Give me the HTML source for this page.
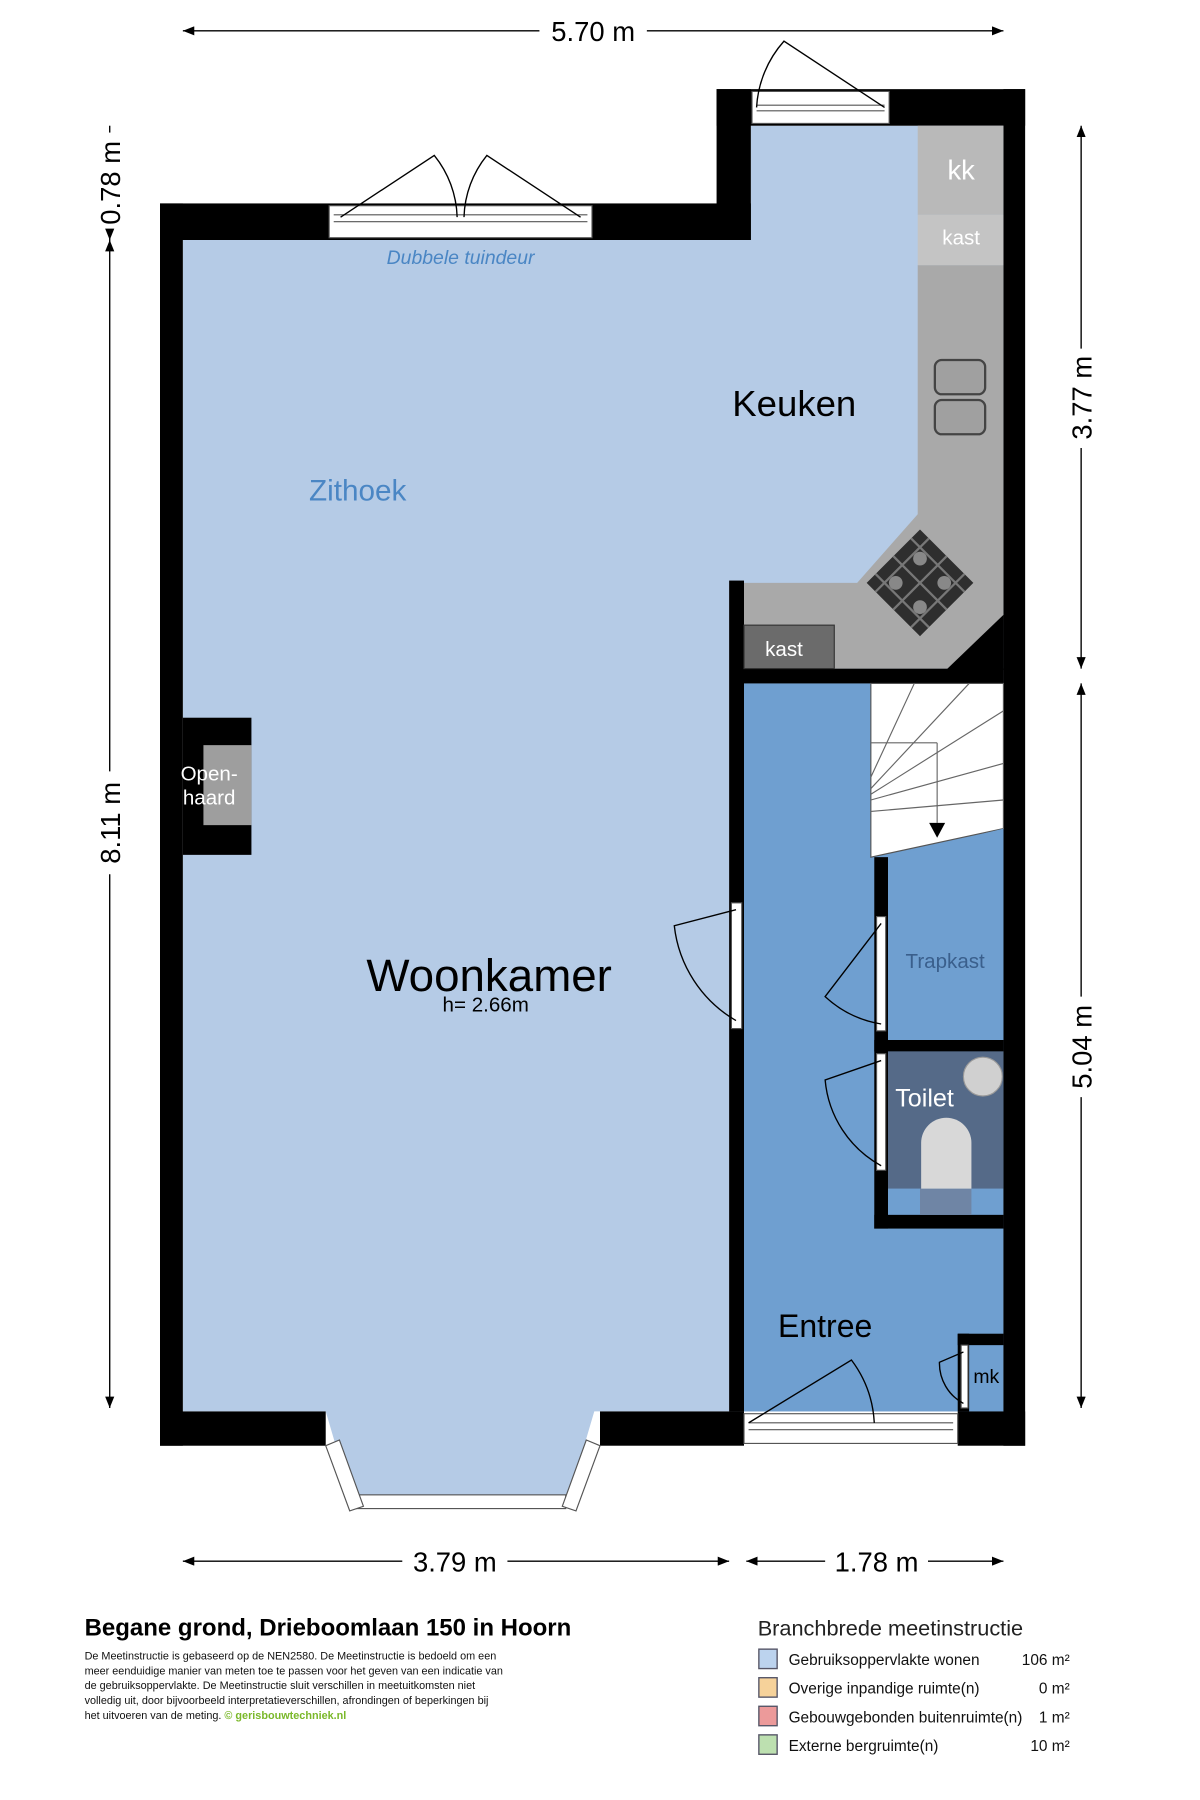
<!DOCTYPE html>
<html><head><meta charset="utf-8"><style>
html,body{margin:0;padding:0;background:#fff;}
svg{display:block;}
text{font-family:"Liberation Sans",sans-serif;}
</style></head><body>
<svg width="1200" height="1800" viewBox="0 0 1050 1575" xmlns="http://www.w3.org/2000/svg">
<defs>
<marker id="ar" markerWidth="10" markerHeight="8" refX="10" refY="4" orient="auto-start-reverse" markerUnits="userSpaceOnUse"><path d="M0,0 L10,4 L0,8 z" fill="#000"/></marker>
</defs>
<polygon points="160,210 657,210 657,110 878,110 878,1235 520,1235 495,1320 310,1320 285,1235 160,1235" fill="#b5cbe6"/>
<rect x="651" y="598" width="227" height="637" fill="#6f9fd0"/>
<g fill="#000">
<rect x="140" y="178" width="517" height="32"/>
<rect x="627" y="78" width="30" height="132"/>
<rect x="627" y="78" width="270" height="32"/>
<rect x="878" y="78" width="19" height="1187"/>
<rect x="140" y="178" width="20" height="1087"/>
<rect x="140" y="1235" width="145" height="30"/>
<rect x="525" y="1235" width="126" height="30"/>
<rect x="838" y="1235" width="59" height="30"/>
<rect x="638" y="508" width="13" height="727"/>
<rect x="640" y="585" width="238" height="13"/>
<rect x="765" y="750" width="12" height="325"/>
<rect x="765" y="910" width="113" height="10"/>
<rect x="765" y="1063" width="113" height="12"/>
<rect x="838" y="1167" width="40" height="10"/>
<rect x="838" y="1167" width="10" height="68"/>
</g>
<g fill="#fff" stroke="#555" stroke-width="1">
<rect x="288" y="180" width="230" height="28"/>
<line x1="292" y1="188" x2="514" y2="188"/><line x1="292" y1="194" x2="514" y2="194"/>
<rect x="658" y="80" width="120" height="28"/>
<line x1="662" y1="92" x2="774" y2="92"/><line x1="662" y1="97" x2="774" y2="97"/>
<rect x="651" y="1237" width="187" height="26"/>
<line x1="655" y1="1245" x2="834" y2="1245"/><line x1="655" y1="1251" x2="834" y2="1251"/>
<rect x="310" y="1308" width="185" height="12"/>
<polygon points="285,1265 297,1260 318,1318 306,1322"/>
<polygon points="525,1265 513,1260 492,1318 504,1322"/>
<rect x="640" y="790" width="9" height="110"/>
<rect x="767" y="802" width="8" height="100"/>
<rect x="767" y="922" width="8" height="102"/>
<rect x="841" y="1177" width="6" height="55"/>
</g>
<g fill="none" stroke="#000" stroke-width="1.2">
<path d="M298,190 L380,136 A90,90 0 0 1 400,190"/>
<path d="M508,190 L426,136 A90,90 0 0 0 406,190"/>
<path d="M662,94 A95,95 0 0 1 686,36 L774,94"/>
<path d="M644,796 L590,810 A110,110 0 0 0 644,893"/>
<path d="M771,808 L722,872 A95,95 0 0 0 771,896"/>
<path d="M771,928 L722,945 A95,95 0 0 0 771,1020"/>
<path d="M655,1245 L745,1190 A100,100 0 0 1 765,1245"/>
<path d="M843,1183 L822,1192 A40,40 0 0 0 843,1228"/>
</g>
<polygon points="803,232 878,232 878,540 830,585 651,585 651,510 750,510 803,450" fill="#a9a9a9"/>
<polygon points="878,538 878,586 828,586" fill="#000"/>
<rect x="803" y="110" width="75" height="78" fill="#b9b9b9"/>
<rect x="803" y="188" width="75" height="44" fill="#c4c4c4"/>
<rect x="651" y="547" width="79" height="38" fill="#6b6b6b" stroke="#333" stroke-width="1"/>
<rect x="818" y="315" width="44" height="30" rx="6" fill="#a0a0a0" stroke="#444" stroke-width="2"/>
<rect x="818" y="350" width="44" height="30" rx="6" fill="#a0a0a0" stroke="#444" stroke-width="2"/>
<g transform="translate(805,510) rotate(45)">
<rect x="-33" y="-33" width="66" height="66" fill="#2e2e2e"/>
<path d="M-22,-33V33M0,-33V33M22,-33V33M-33,-22H33M-33,0H33M-33,22H33" stroke="#777" stroke-width="2"/>
<circle cx="-15" cy="-15" r="6" fill="#888"/><circle cx="15" cy="-15" r="6" fill="#888"/><circle cx="-15" cy="15" r="6" fill="#888"/><circle cx="15" cy="15" r="6" fill="#888"/>
</g>
<rect x="160" y="628" width="60" height="120" fill="#000"/>
<rect x="178" y="652" width="42" height="70" fill="#9e9e9e"/>
<polygon points="762,598 878,598 878,725 762,750" fill="#fff" stroke="#555" stroke-width="1"/>
<g stroke="#666" stroke-width="1" fill="none">
<line x1="762" y1="650" x2="820" y2="650"/>
<line x1="820" y1="650" x2="820" y2="720"/>
<line x1="762" y1="680" x2="800" y2="598"/>
<line x1="762" y1="690" x2="848" y2="598"/>
<line x1="762" y1="695" x2="878" y2="622"/>
<line x1="762" y1="700" x2="878" y2="668"/>
<line x1="762" y1="710" x2="878" y2="700"/>
</g>
<polygon points="813,720 827,720 820,733" fill="#000"/>
<polygon points="777,750 878,725 878,910 777,910" fill="#6f9fd0"/>
<rect x="777" y="920" width="101" height="120" fill="#556a88"/>
<rect x="805" y="1040" width="45" height="23" fill="#6f85a5"/>
<path d="M806,1040 V1000 A22,22 0 0 1 850,1000 V1040 Z" fill="#d8d8d8"/>
<circle cx="860" cy="942" r="17" fill="#d0d0d0" stroke="#999"/>
<text x="403" y="231" font-size="17" font-style="italic" fill="#4a86c4" text-anchor="middle">Dubbele tuindeur</text>
<text x="313" y="438" font-size="26" fill="#4a86c4" text-anchor="middle">Zithoek</text>
<text x="695" y="364" font-size="32" fill="#000" text-anchor="middle">Keuken</text>
<text x="841" y="157" font-size="24" fill="#fff" text-anchor="middle">kk</text>
<text x="841" y="214" font-size="18" fill="#fff" text-anchor="middle">kast</text>
<text x="686" y="574" font-size="18" fill="#fff" text-anchor="middle">kast</text>
<text x="183" y="683" font-size="18" fill="#fff" text-anchor="middle">Open-</text>
<text x="183" y="704" font-size="18" fill="#fff" text-anchor="middle">haard</text>
<text x="428" y="867" font-size="40" fill="#000" text-anchor="middle">Woonkamer</text>
<text x="425" y="885" font-size="18" fill="#000" text-anchor="middle">h= 2.66m</text>
<text x="827" y="847" font-size="18" fill="#3a5f8c" text-anchor="middle">Trapkast</text>
<text x="809" y="968" font-size="22" fill="#fff" text-anchor="middle">Toilet</text>
<text x="722" y="1170" font-size="28" fill="#000" text-anchor="middle">Entree</text>
<text x="863" y="1210" font-size="17" fill="#000" text-anchor="middle">mk</text>
<g stroke="#000" stroke-width="1.2" fill="none">
<line x1="160" y1="27" x2="472" y2="27" marker-start="url(#ar)"/>
<line x1="566" y1="27" x2="878" y2="27" marker-end="url(#ar)"/>
<line x1="160" y1="1366" x2="352" y2="1366" marker-start="url(#ar)"/>
<line x1="444" y1="1366" x2="638" y2="1366" marker-end="url(#ar)"/>
<line x1="653" y1="1366" x2="722" y2="1366" marker-start="url(#ar)"/>
<line x1="812" y1="1366" x2="878" y2="1366" marker-end="url(#ar)"/>
<line x1="946" y1="110" x2="946" y2="305" marker-start="url(#ar)"/>
<line x1="946" y1="392" x2="946" y2="585" marker-end="url(#ar)"/>
<line x1="946" y1="598" x2="946" y2="872" marker-start="url(#ar)"/>
<line x1="946" y1="960" x2="946" y2="1232" marker-end="url(#ar)"/>
<line x1="96" y1="110" x2="96" y2="116"/>
<line x1="96" y1="204" x2="96" y2="210" marker-end="url(#ar)"/>
<line x1="96" y1="210" x2="96" y2="675" marker-start="url(#ar)"/>
<line x1="96" y1="765" x2="96" y2="1232" marker-end="url(#ar)"/>
</g>
<g font-size="24" fill="#000" text-anchor="middle">
<text x="519" y="36">5.70 m</text>
<text x="398" y="1375">3.79 m</text>
<text x="767" y="1375">1.78 m</text>
<text transform="translate(955,348) rotate(-90)" text-anchor="middle">3.77 m</text>
<text transform="translate(955,916) rotate(-90)" text-anchor="middle">5.04 m</text>
<text transform="translate(105,720) rotate(-90)" text-anchor="middle">8.11 m</text>
<text transform="translate(105,160) rotate(-90)" text-anchor="middle">0.78 m</text>
</g>
<text x="74" y="1431" font-size="21" font-weight="bold" fill="#000">Begane grond, Drieboomlaan 150 in Hoorn</text>
<g font-size="9.5" fill="#111">
<text x="74" y="1452">De Meetinstructie is gebaseerd op de NEN2580. De Meetinstructie is bedoeld om een</text>
<text x="74" y="1465">meer eenduidige manier van meten toe te passen voor het geven van een indicatie van</text>
<text x="74" y="1478">de gebruiksoppervlakte. De Meetinstructie sluit verschillen in meetuitkomsten niet</text>
<text x="74" y="1491">volledig uit, door bijvoorbeeld interpretatieverschillen, afrondingen of beperkingen bij</text>
<text x="74" y="1504">het uitvoeren van de meting. <tspan fill="#7ab829" font-weight="bold">© gerisbouwtechniek.nl</tspan></text>
</g>
<text x="663" y="1431" font-size="19" fill="#222">Branchbrede meetinstructie</text>
<g font-size="13.5" fill="#111">
<rect x="664" y="1443" width="16" height="17" fill="#bcd3ee" stroke="#556" stroke-width="1.2"/>
<text x="690" y="1457">Gebruiksoppervlakte wonen</text><text x="936" y="1457" text-anchor="end">106 m²</text>
<rect x="664" y="1468" width="16" height="17" fill="#f6d29a" stroke="#556" stroke-width="1.2"/>
<text x="690" y="1482">Overige inpandige ruimte(n)</text><text x="936" y="1482" text-anchor="end">0 m²</text>
<rect x="664" y="1493" width="16" height="17" fill="#ec9a9a" stroke="#556" stroke-width="1.2"/>
<text x="690" y="1507">Gebouwgebonden buitenruimte(n)</text><text x="936" y="1507" text-anchor="end">1 m²</text>
<rect x="664" y="1518" width="16" height="17" fill="#bde0b0" stroke="#556" stroke-width="1.2"/>
<text x="690" y="1532">Externe bergruimte(n)</text><text x="936" y="1532" text-anchor="end">10 m²</text>
</g>
</svg>
</body></html>
